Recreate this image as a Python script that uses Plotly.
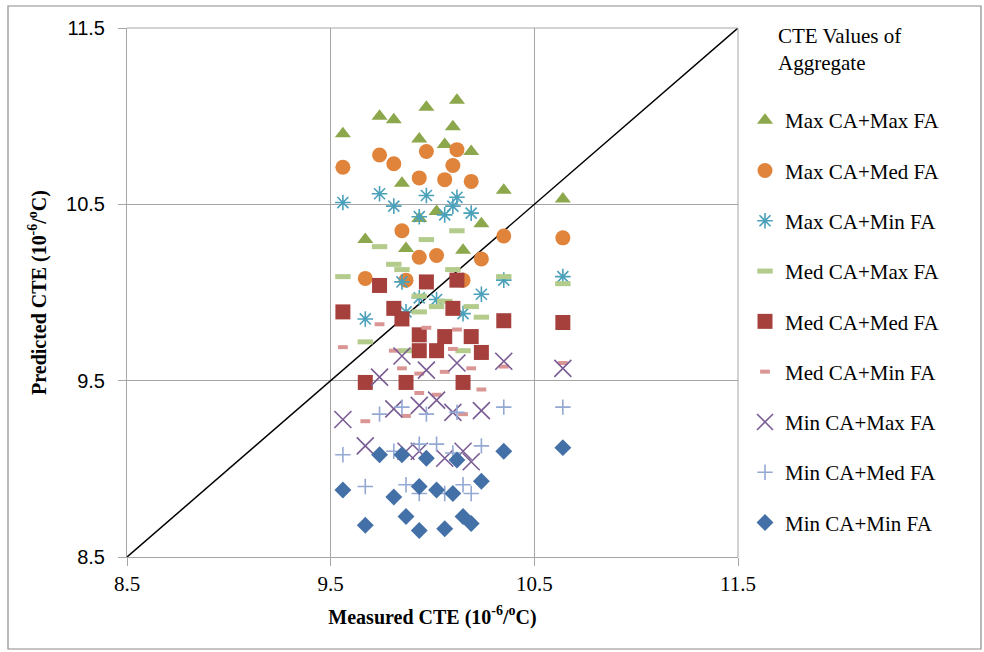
import plotly.graph_objects as go

# Measured CTE (x) for the 18 samples, shared by all series
measured = [9.56, 9.67, 9.74, 9.81, 9.85, 9.87, 9.935, 9.935, 9.97, 10.02,
            10.06, 10.10, 10.12, 10.15, 10.19, 10.24, 10.35, 10.64]

max_ca_max_fa = [10.90, 10.30, 11.00, 10.98, 10.62, 10.25, 10.87, 10.42, 11.05, 10.46,
                 10.84, 10.94, 11.09, 10.24, 10.80, 10.39, 10.58, 10.53]
max_ca_med_fa = [10.71, 10.08, 10.78, 10.73, 10.35, 10.07, 10.65, 10.20, 10.80, 10.21,
                 10.64, 10.72, 10.81, 10.07, 10.63, 10.19, 10.32, 10.31]
max_ca_min_fa = [10.51, 9.85, 10.56, 10.49, 10.06, 9.89, 10.43, 9.97, 10.55, 9.96,
                 10.44, 10.49, 10.54, 9.88, 10.45, 9.99, 10.07, 10.09]
med_ca_max_fa = [10.09, 9.72, 10.26, 10.16, 10.13, 9.67, 9.98, 9.89, 10.30, 9.92,
                 9.95, 10.13, 10.35, 9.67, 9.92, 9.86, 10.09, 10.05]
med_ca_med_fa = [9.89, 9.49, 10.04, 9.91, 9.85, 9.49, 9.76, 9.67, 10.06, 9.67,
                 9.75, 9.91, 10.07, 9.49, 9.75, 9.66, 9.84, 9.83]
med_ca_min_fa = [9.69, 9.27, 9.82, 9.67, 9.57, 9.30, 9.54, 9.43, 9.80, 9.42,
                 9.55, 9.68, 9.79, 9.31, 9.57, 9.45, 9.58, 9.60]
min_ca_max_fa = [9.28, 9.13, 9.52, 9.34, 9.64, 9.10, 9.36, 9.10, 9.56, 9.39,
                 9.06, 9.32, 9.60, 9.10, 9.04, 9.33, 9.61, 9.57]
min_ca_med_fa = [9.08, 8.90, 9.31, 9.10, 9.35, 8.91, 9.14, 8.86, 9.31, 9.14,
                 8.86, 9.09, 9.32, 8.91, 8.86, 9.13, 9.35, 9.35]
min_ca_min_fa = [8.88, 8.68, 9.08, 8.84, 9.08, 8.73, 8.90, 8.65, 9.06, 8.88,
                 8.66, 8.86, 9.05, 8.73, 8.69, 8.93, 9.10, 9.12]

series_names = ["Max CA+Max FA", "Max CA+Med FA", "Max CA+Min FA",
                "Med CA+Max FA", "Med CA+Med FA", "Med CA+Min FA",
                "Min CA+Max FA", "Min CA+Med FA", "Min CA+Min FA"]
series_values = [max_ca_max_fa, max_ca_med_fa, max_ca_min_fa,
                 med_ca_max_fa, med_ca_med_fa, med_ca_min_fa,
                 min_ca_max_fa, min_ca_med_fa, min_ca_min_fa]

legend_title = "CTE Values of<br>Aggregate"
axis_ticks = [8.5, 9.5, 10.5, 11.5]
line_points = [8.5, 11.5]

styles = [
    dict(symbol="triangle-up", size=14, color="#8DA74C", line=dict(width=0)),
    dict(symbol="circle", size=15, color="#E0843C", line=dict(width=0)),
    dict(symbol="asterisk-open", size=13, color="#4BA0BA", line=dict(width=1.6, color="#4BA0BA")),
    dict(symbol="line-ew-open", size=11, color="#B3CB8B", line=dict(width=5, color="#B3CB8B")),
    dict(symbol="square", size=15, color="#A5403D", line=dict(width=0)),
    dict(symbol="line-ew-open", size=7, color="#D99694", line=dict(width=4, color="#D99694")),
    dict(symbol="x-thin-open", size=17, color="#7A5C94", line=dict(width=1.6, color="#7A5C94")),
    dict(symbol="cross-thin-open", size=11, color="#93A9D3", line=dict(width=1.6, color="#93A9D3")),
    dict(symbol="diamond", size=13, color="#4470A8", line=dict(width=0)),
]

fig = go.Figure()

fig.add_trace(go.Scatter(x=line_points, y=line_points, mode="lines",
                         line=dict(color="black", width=1.5),
                         showlegend=False, hoverinfo="skip"))

for i, (name, vals, st) in enumerate(zip(series_names, series_values, styles)):
    fig.add_trace(go.Scatter(x=measured, y=vals, mode="markers", name=name,
                             legendgroup=f"g{i}", marker=st))

serif = "Liberation Serif, Times New Roman, serif"
sans = "Liberation Sans, Arial, sans-serif"

PW, PH = 611, 529  # plot area size in px


def px_x(p):
    return (p - 127) / PW


def px_y(p):
    return (557 - p) / PH


fig.update_layout(
    width=984, height=652,
    margin=dict(l=127, r=246, t=28, b=95),
    plot_bgcolor="white", paper_bgcolor="white",
    font=dict(family=serif, color="black"),
    legend=dict(
        x=px_x(745), y=px_y(100), xanchor="left", yanchor="top",
        font=dict(family=serif, size=21, color="black"),
        tracegroupgap=20, itemwidth=30, maxheight=700,
        bgcolor="rgba(0,0,0,0)",
    ),
    xaxis=dict(
        range=[8.5, 11.5], tickvals=axis_ticks, ticktext=[str(t) for t in axis_ticks],
        showgrid=True, gridcolor="#A6A6A6", gridwidth=1,
        showline=True, linecolor="#A6A6A6", linewidth=1,
        ticks="outside", ticklen=8, tickcolor="#A6A6A6",
        zeroline=False, tickfont=dict(family=serif, size=21),
        title=dict(text="<b>Measured CTE (10<sup>-6</sup>/<sup>o</sup>C)</b>",
                   font=dict(family=serif, size=20), standoff=14),
    ),
    yaxis=dict(
        range=[8.5, 11.5], tickvals=axis_ticks, ticktext=[str(t) for t in axis_ticks],
        showgrid=True, gridcolor="#A6A6A6", gridwidth=1,
        showline=True, linecolor="#A6A6A6", linewidth=1,
        ticks="outside", ticklen=8, tickcolor="#A6A6A6",
        zeroline=False, tickfont=dict(family=sans, size=20),
        ticklabelstandoff=9,
        title=dict(text="<b>Predicted CTE (10<sup>-6</sup>/<sup>o</sup>C)</b>",
                   font=dict(family=serif, size=20), standoff=14),
    ),
    annotations=[
        dict(text=legend_title, xref="paper", yref="paper",
             x=px_x(776), y=px_y(22), xanchor="left", yanchor="top",
             align="left", showarrow=False,
             font=dict(family=serif, size=21, color="black")),
    ],
    shapes=[
        dict(type="line", xref="paper", yref="paper", x0=0, x1=1, y0=1, y1=1,
             line=dict(color="#A6A6A6", width=1)),
        dict(type="line", xref="paper", yref="paper", x0=1, x1=1, y0=0, y1=1,
             line=dict(color="#A6A6A6", width=1)),
        dict(type="rect", xref="paper", yref="paper",
             x0=px_x(8), x1=px_x(981), y0=px_y(649), y1=px_y(6),
             line=dict(color="#8C8C8C", width=1.2), layer="below"),
    ],
)

fig.write_html("out.html")
